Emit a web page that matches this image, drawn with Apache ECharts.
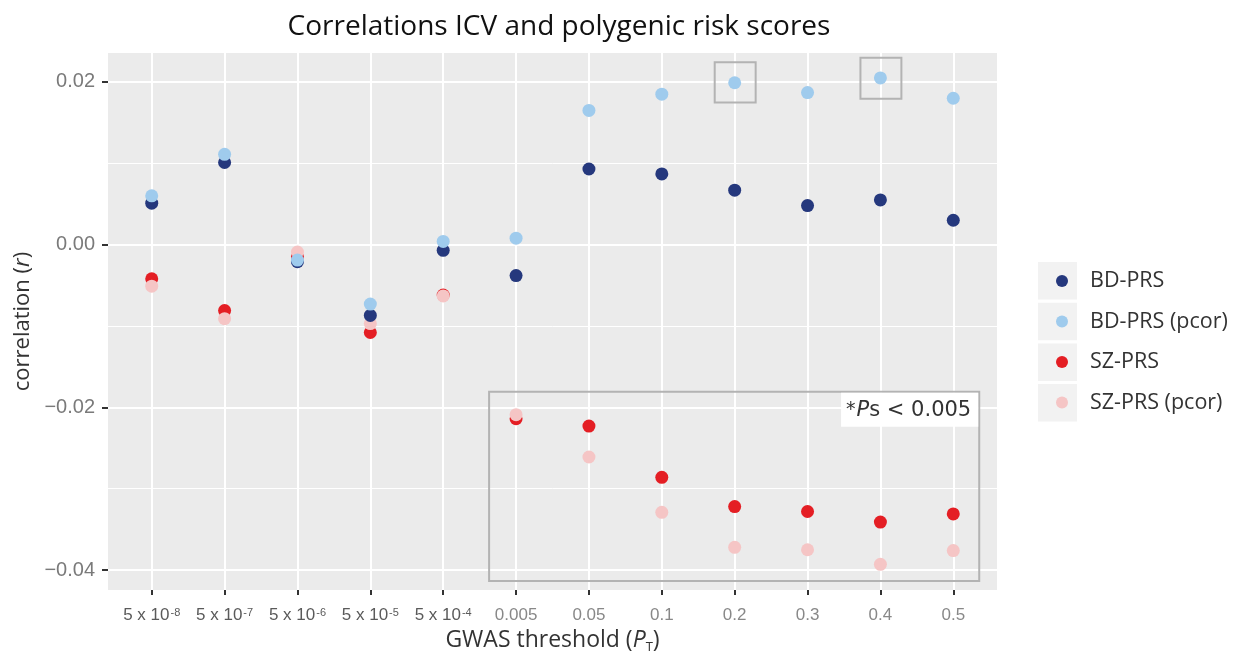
<!DOCTYPE html>
<html>
<head>
<meta charset="utf-8">
<script src="https://cdn.jsdelivr.net/npm/echarts@6/dist/echarts.min.js"></script>
<style>
html,body{margin:0;padding:0;background:#fff;}
#chart{width:1239px;height:655px;}
</style>
</head>
<body>
<div id="chart"></div>
<script>
// ---- data ----
const thresholds = ['{e|5 x 10}{sup|-8}','{e|5 x 10}{sup|-7}','{e|5 x 10}{sup|-6}','{e|5 x 10}{sup|-5}','{e|5 x 10}{sup|-4}','0.005','0.05','0.1','0.2','0.3','0.4','0.5'];
const bdPRS     = [0.0051, 0.0101, -0.0021, -0.0087, -0.0007, -0.0038, 0.0093, 0.0087, 0.0067, 0.0048, 0.0055, 0.0030];
const bdPRSpcor = [0.0060, 0.0111, -0.0019, -0.0073, 0.0004, 0.0008, 0.0165, 0.0185, 0.0199, 0.0187, 0.0205, 0.0180];
const szPRS     = [-0.0042, -0.0081, -0.0015, -0.0108, -0.0062, -0.0214, -0.0223, -0.0286, -0.0322, -0.0328, -0.0341, -0.0331];
const szPRSpcor = [-0.0051, -0.0091, -0.0009, -0.0097, -0.0063, -0.0209, -0.0261, -0.0329, -0.0372, -0.0375, -0.0393, -0.0376];
const yTicks = [-0.04, -0.02, 0, 0.02];
const yMinor = [-0.03, -0.01, 0.01];
const seriesNames = ['BD-PRS', 'BD-PRS (pcor)', 'SZ-PRS', 'SZ-PRS (pcor)'];

const idx = thresholds.map((_, i) => i);
const pairs = arr => arr.map((v, i) => [i, v]);

const colors = {'BD-PRS':'#25387d','BD-PRS (pcor)':'#9fcbed','SZ-PRS':'#e41e24','SZ-PRS (pcor)':'#f5c5c5'};
const chart = echarts.init(document.getElementById('chart'), null, {renderer:'canvas'});

const YMIN = -0.04245, YMAX = 0.02356;

function mkSeries(name, data, z, extra) {
  return Object.assign({
    name, type:'scatter', data: pairs(data), symbolSize: 13, z,
    itemStyle:{color: colors[name], opacity:1}, silent:true, animation:false
  }, extra || {});
}

const boxStyle = {color:'rgba(0,0,0,0)', borderColor:'#b3b3b3', borderWidth:2};

const option = {
  backgroundColor:'#ffffff',
  animation:false,
  title:{
    text:'Correlations ICV and polygenic risk scores',
    left: 554, top: 8, textAlign:'center',
    textStyle:{fontFamily:'Open Sans', fontSize:28, fontWeight:'normal', color:'#111'}
  },
  grid:{left:108, top:53, right:242, bottom:65, show:true, backgroundColor:'#ebebeb', borderWidth:0,
        outerBoundsMode:'none', containLabel:false},
  legend:{
    orient:'vertical', left:1051, top:265,
    data: seriesNames,
    icon:'circle', itemWidth:12, itemHeight:12, itemGap:18.5,
    textStyle:{fontFamily:'Open Sans', fontSize:21.5, color:'#333', lineHeight:22, padding:[0,0,0,17]},
    selectedMode:false
  },
  graphic: [0,1,2,3].map(i => ({
    type:'rect', left:1038, top:262 + i*40.7, z:-1,
    shape:{width:39, height:37.5}, style:{fill:'#f2f2f2'}
  })),
  xAxis:{
    type:'value', min:-0.6, max:11.6,
    name:'GWAS threshold ({i|P}{sub|T})', nameLocation:'middle', nameGap:36,
    nameTextStyle:{fontFamily:'Open Sans', fontSize:23, color:'#333',
      rich:{i:{fontFamily:'Open Sans', fontSize:23, fontStyle:'italic', color:'#333'},
            sub:{fontFamily:'Open Sans', fontSize:13, color:'#333', verticalAlign:'bottom', padding:[14,0,0,0]}}},
    axisLine:{show:false, onZero:false},
    axisTick:{show:true, customValues: idx, length:5, lineStyle:{color:'#333', width:2}},
    axisLabel:{customValues: idx, margin:17, formatter: v => thresholds[Math.round(v)],
      fontFamily:'Liberation Sans', fontSize:17, color:'#888',
      rich:{e:{fontFamily:'Liberation Sans', fontSize:17, color:'#5a5a5a'},
            sup:{fontFamily:'Liberation Sans', fontSize:11, color:'#5a5a5a', verticalAlign:'top', padding:[0,0,6,1]}}},
    splitLine:{show:true, lineStyle:{color:'#ffffff', width:2}}
  },
  yAxis:[{
    type:'value', min:YMIN, max:YMAX,
    name:'correlation ({i|r})', nameLocation:'middle', nameGap:74, nameRotate:90,
    nameTextStyle:{fontFamily:'Open Sans', fontSize:22, color:'#333',
      rich:{i:{fontFamily:'Open Sans', fontSize:22, fontStyle:'italic', color:'#333'}}},
    axisLine:{show:false, onZero:false},
    axisTick:{show:true, customValues:yTicks, length:6, lineStyle:{color:'#333', width:2}},
    axisLabel:{customValues:yTicks, margin:13, fontFamily:'Liberation Sans', fontSize:20, color:'#7a7a7a',
      formatter: v => (v < 0 ? '\u2212' : '') + Math.abs(v).toFixed(2)},
    splitLine:{show:true, lineStyle:{color:'#ffffff', width:2}}
  },{
    type:'value', min:YMIN, max:YMAX, position:'left',
    axisLine:{show:false, onZero:false},
    axisTick:{show:false, customValues:yMinor},
    axisLabel:{show:false, customValues:yMinor},
    splitLine:{show:true, lineStyle:{color:'#ffffff', width:1}}
  }],
  series:[
    mkSeries('SZ-PRS', szPRS, 2, {
      markArea:{
        silent:true,
        itemStyle: boxStyle,
        data:[
          [{xAxis:4.63, yAxis:-0.01807, label:{show:true, position:'insideTopRight', distance:2,
              formatter:'{a|*}{i|P}{n|s < 0.005}', backgroundColor:'#ffffff', padding:[7,7,6,5],
              rich:{a:{fontFamily:'DejaVu Sans', fontSize:19, color:'#333', padding:[0,1,0,0]},
                    i:{fontFamily:'DejaVu Sans', fontSize:21, fontStyle:'italic', color:'#333'},
                    n:{fontFamily:'DejaVu Sans', fontSize:21, color:'#333'}}}},
           {xAxis:11.356, yAxis:-0.04135}],
          [{xAxis:7.726, yAxis:0.02242}, {xAxis:8.288, yAxis:0.01746}],
          [{xAxis:9.726, yAxis:0.02297}, {xAxis:10.288, yAxis:0.01795}]
        ]
      }
    }),
    mkSeries('SZ-PRS (pcor)', szPRSpcor, 3),
    mkSeries('BD-PRS', bdPRS, 4),
    mkSeries('BD-PRS (pcor)', bdPRSpcor, 5)
  ]
};
chart.setOption(option);
</script>
</body>
</html>
